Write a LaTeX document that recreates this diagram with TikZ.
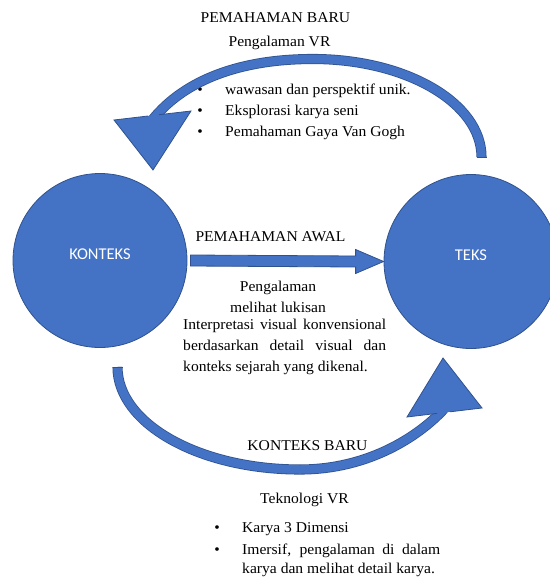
\documentclass[tikz,border=0pt]{standalone}
\usepackage{fontspec}
\setmainfont{Liberation Serif}[FakeStretch=1.04]
\newfontfamily\calibri{Carlito}
\usetikzlibrary{calc,positioning}
\definecolor{ringblue}{HTML}{4472C4}
\definecolor{ringedge}{HTML}{2F528F}
\newcommand{\nobreakhyph}{\hyphenpenalty=10000 \exhyphenpenalty=10000 \tolerance=10000\relax}

\begin{document}
\begin{tikzpicture}[x=1pt, y=-1pt,
circ/.style={circle, draw=ringedge, fill=ringblue, line width=0.8pt, minimum size=174pt, inner sep=0pt},
band/.style={fill=ringblue},
rim/.style={draw=ringedge, line width=0.8pt, line join=miter},
tube/.style={draw=ringedge, double=ringblue, double distance=8.5pt, line width=0.8pt},
txt/.style={font=\fontsize{15}{21}\selectfont, inner sep=0pt},
para/.style={txt, align=justify}
]
\useasboundingbox (0,0) rectangle (549,578);
%Nodes
\node[circ, label={[white, font=\calibri\fontsize{16.5}{20}\selectfont, yshift=6.5pt]center:KONTEKS}] (kon) at (100,260.5) {};
\node[circ, label={[white, font=\calibri\fontsize{16.5}{20}\selectfont, yshift=6pt]center:TEKS}]   (teks) at (471,261.5) {};
\node[txt, anchor=base] (newund) at (275.5,22.7) {PEMAHAMAN BARU};
\node[txt, anchor=base] (vrexp)  at (279.5,46.7) {Pengalaman VR};
\foreach \t [count=\i] in {wawasan dan perspektif unik., Eksplorasi karya seni, Pemahaman Gaya Van Gogh} {
  \node[txt, anchor=base] (ub\i) at (200,{94+21.3*(\i-1)}) {\textbullet};
  \node[txt, anchor=base west] (ut\i) at (225,{94+21.3*(\i-1)}) {\t};
}
\node[txt, anchor=base] (firstund) at (270.5,241.7) {PEMAHAMAN AWAL};
\node[txt, anchor=base] (seeexp1)  at (278,291.5) {Pengalaman};
\node[txt, anchor=base] (seeexp2)  at (278,312.5) {melihat lukisan};
\node[para, anchor=north west, text width=203pt] (interp) at (183,318.7)
  {\nobreakhyph Interpretasi visual konvensional berdasarkan detail visual dan konteks sejarah yang dikenal.};
\node[txt, anchor=base] (newcon) at (307.5,450) {KONTEKS BARU};
\node[txt, anchor=base] (vrtech) at (304.5,503) {Teknologi VR};
\node[txt, anchor=base] (lb1) at (217,532.7) {\textbullet};
\node[txt, anchor=base west] (lt1) at (242,532.7) {Karya 3 Dimensi};
\node[txt, anchor=base] (lb2) at (217,554) {\textbullet};
\node[para, anchor=north west, text width=198pt, font=\fontsize{15}{19.5}\selectfont] (lt2) at (242,543.7)
  {\nobreakhyph Imersif, pengalaman di dalam karya dan melihat detail karya.};
%Lines
\coordinate (a0) at ($(kon.east)+(3,0)$);
\filldraw[band, rim] ($(a0)+(0,-5.5)$) -- ($(teks.west)+(-28,-5.5)$) -- ($(teks.west)+(-28,-12)$) -- (teks.west)
  -- ($(teks.west)+(-28,12)$) -- ($(teks.west)+(-28,5.5)$) -- ($(a0)+(0,5.5)$) -- cycle;
% top curve, TEKS back to KONTEKS
\coordinate (t1) at (481.5,157);
\coordinate (t2) at (153,119);
\draw[tube] (t1) .. controls (481.5,102.9) and (406,59) .. (313,59) .. controls (240,59) and (185,80) .. (t2);
\draw[rim] ($(t1)+(-5,0)$) -- ($(t1)+(5,0)$);
\fill[band] (114,120) -- (191,111) -- (153,170) -- cycle;
\draw[rim] (148,116) -- (114,120) -- (153,170) -- (191,111) -- (159,114.7);
% bottom curve, KONTEKS to TEKS
\coordinate (b1) at (117.5,367);
\coordinate (b2) at (444,409);
\draw[tube] (b1) .. controls (117.5,423.6) and (199.2,469.5) .. (300,469.5) .. controls (370,469.5) and (420,435) .. (b2);
\draw[rim] ($(b1)+(-5,0)$) -- ($(b1)+(5,0)$);
\fill[band] (443,358) -- (482,408) -- (407,417) -- cycle;
\draw[rim] (437,413.4) -- (407,417) -- (443,358) -- (482,408) -- (450,411.8);
\end{tikzpicture}
\end{document}
